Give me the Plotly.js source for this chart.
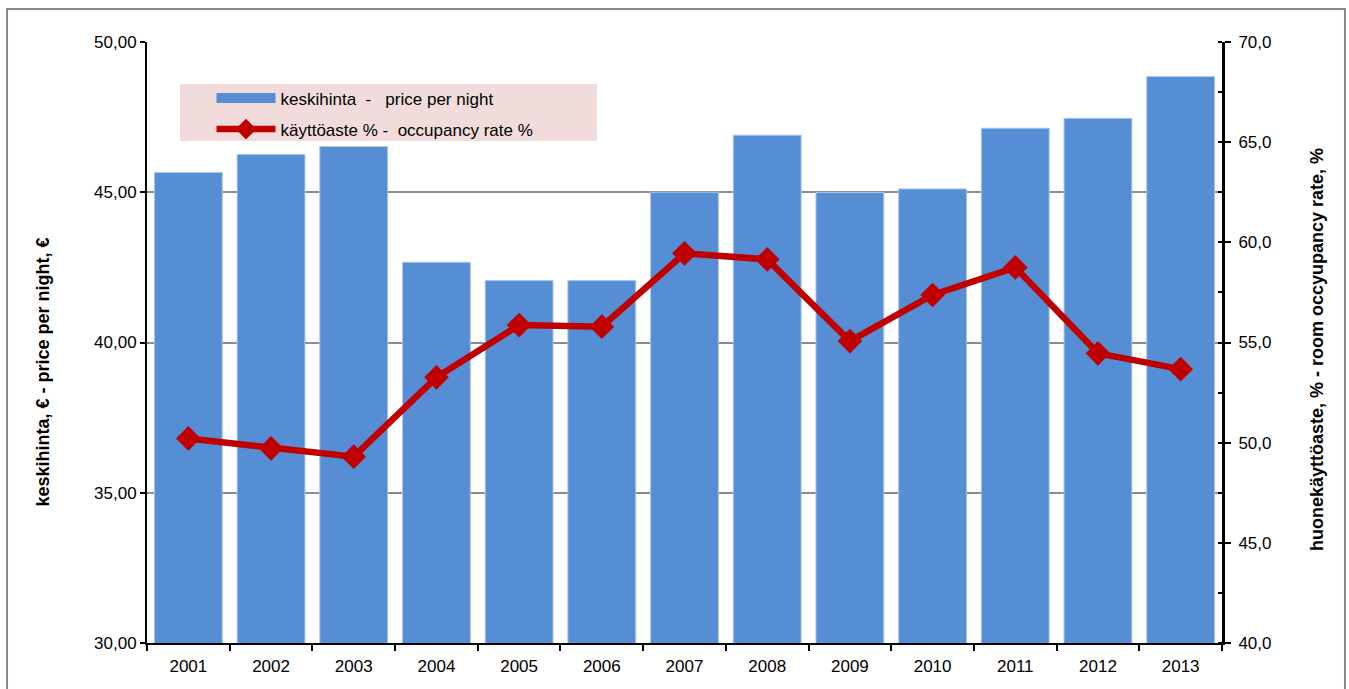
<!DOCTYPE html>
<html>
<head>
<meta charset="utf-8">
<script src="https://cdn.plot.ly/plotly-3.0.1.min.js"></script>
<style>html,body{margin:0;padding:0;background:#fff;}#chart{width:1349px;height:689px;}</style>
</head>
<body>
<div id="chart"></div>
<script>
const years = ["2001","2002","2003","2004","2005","2006","2007","2008","2009","2010","2011","2012","2013"];
const pricePerNight = [45.66, 46.26, 46.52, 42.67, 42.06, 42.06, 45.00, 46.90, 44.99, 45.11, 47.13, 47.46, 48.85];
const occupancyRate = [50.21, 49.72, 49.30, 53.26, 55.87, 55.79, 59.45, 59.15, 55.07, 57.37, 58.75, 54.46, 53.67];
const priceName = "keskihinta\u00a0\u00a0-\u00a0\u00a0\u00a0price per night";
const occName = "käyttöaste % -\u00a0\u00a0occupancy rate %";
const leftTitle = "keskihinta, € - price per night, €";
const rightTitle = "huonekäyttöaste, % - room occyupancy rate, %";

const font = "Liberation Sans, Arial, sans-serif";
const barColor = "#558ED5";
const lineColor = "#C00000";

const traces = [
  {
    type: "bar", x: years, y: pricePerNight, name: priceName, yaxis: "y",
    marker: {color: barColor, line: {color: "#A9C4EC", width: 1}},
    showlegend: false
  },
  {
    // legend entry for the bars (wide bar swatch as in the original)
    type: "scatter", mode: "lines", x: [null], y: [null], name: priceName, yaxis: "y",
    line: {color: barColor, width: 11}, legendgroup: "a", showlegend: true
  },
  {
    type: "scatter", mode: "lines+markers", x: years, y: occupancyRate, name: occName, yaxis: "y2",
    line: {color: lineColor, width: 6.5},
    marker: {symbol: "diamond", size: 19, color: lineColor},
    legendgroup: "b"
  }
];

const layout = {
  width: 1349, height: 689,
  margin: {l: 147, r: 127, t: 42, b: 46},
  paper_bgcolor: "#ffffff", plot_bgcolor: "#ffffff",
  font: {family: font, size: 17, color: "#000"},
  separators: ", ",
  bargap: 0.18,
  showlegend: true,
  legend: {
    x: 0.060, y: 0.936, xanchor: "left", yanchor: "top",
    bgcolor: "rgba(0,0,0,0)", borderwidth: 0,
    font: {family: font, size: 17, color: "#000"},
    itemwidth: 59, tracegroupgap: 6
  },
  xaxis: {
    type: "category", range: [-0.5, 12.5], showgrid: false, showline: true, linecolor: "#000", linewidth: 2,
    ticks: "outside", tickson: "boundaries", ticklen: 6, tickcolor: "#000", tickwidth: 2,
    ticklabelstandoff: 7,
    tickfont: {family: font, size: 17, color: "#000"}, zeroline: false, fixedrange: true
  },
  yaxis: {
    range: [30, 50], dtick: 5, tick0: 30, tickformat: ".2f",
    showgrid: true, gridcolor: "#8C8C8C", gridwidth: 2,
    showline: true, linecolor: "#000", linewidth: 2, zeroline: false,
    ticks: "outside", ticklen: 5, tickcolor: "#000", tickwidth: 2,
    tickfont: {family: font, size: 17, color: "#000"}
  },
  yaxis2: {
    overlaying: "y", side: "right", range: [40, 70], dtick: 5, tick0: 40, tickformat: ".1f",
    showgrid: false, showline: true, linecolor: "#000", linewidth: 3, zeroline: false,
    ticks: "outside", ticklen: 6, tickcolor: "#000", tickwidth: 2,
    minor: {ticks: "inside", dtick: 2.5, ticklen: 4, tickcolor: "#000", tickwidth: 2, showgrid: false},
    ticklabelstandoff: 4,
    tickfont: {family: font, size: 17, color: "#000"}
  },
  annotations: [
    {text: leftTitle, xref: "paper", yref: "paper", x: -0.0967, y: 0.450, textangle: -90,
     showarrow: false, xanchor: "center", yanchor: "middle",
     font: {family: font, size: 18, color: "#000", weight: "bold"}},
    {text: rightTitle, xref: "paper", yref: "paper", x: 1.0884, y: 0.4875, textangle: -90,
     showarrow: false, xanchor: "center", yanchor: "middle",
     font: {family: font, size: 18, color: "#000", weight: "bold"}}
  ],
  shapes: [
    {type: "rect", xref: "paper", yref: "paper", x0: -0.1302, x1: 1.1144, y0: -0.1, y1: 1.0549,
     line: {color: "#898989", width: 2}, fillcolor: "rgba(0,0,0,0)", layer: "below"},
    {type: "rect", xref: "paper", yref: "paper", x0: 0.0307, x1: 0.4186, y0: 0.8353, y1: 0.9301,
     line: {width: 0}, fillcolor: "#F2DCDB", layer: "below"}
  ]
};

Plotly.newPlot("chart", traces, layout, {displayModeBar: false, staticPlot: true});
</script>
</body>
</html>
